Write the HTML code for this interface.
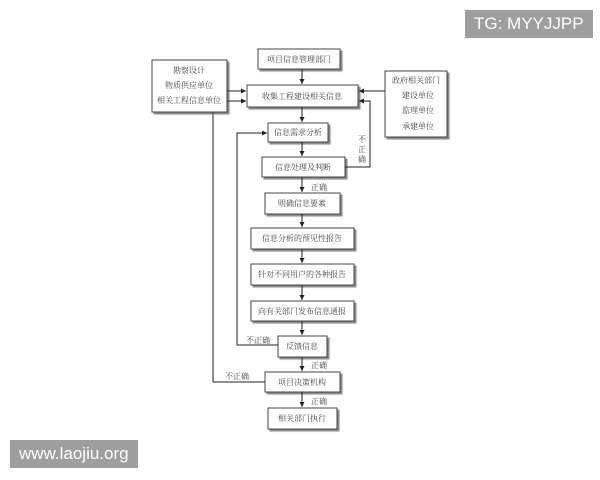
<!DOCTYPE html>
<html><head><meta charset="utf-8"><style>
body{margin:0;width:600px;height:480px;background:#fff;overflow:hidden;position:relative;font-family:"Liberation Serif","Noto Serif CJK SC",serif}
.wm{position:absolute;background:#9e9e9e;color:#fff;font-family:"Liberation Sans",sans-serif;font-size:17px;line-height:28px;padding:0 9px}
</style></head><body>
<svg width="600" height="480" style="position:absolute;left:0;top:0" font-family="'Liberation Serif','Noto Serif CJK SC',serif" font-size="8" fill="#444">
<defs>
<marker id="a" markerWidth="6" markerHeight="6" refX="5" refY="3" orient="auto"><path d="M0,0.5 L5,3 L0,5.5z" fill="#222"/></marker>
<filter id="s"><feDropShadow dx="2" dy="2" stdDeviation="0.6" flood-color="#555" flood-opacity="0.7"/></filter>
</defs>
<g stroke="#222" stroke-width="1" fill="none">
<polyline points="213,382 213,101 246,101" marker-end="url(#a)"/>
</g>
<g fill="#fff" stroke="#444" stroke-width="1" filter="url(#s)">
<rect x="258" y="49" width="82" height="20"/>
<rect x="152" y="60" width="75" height="52"/>
<rect x="247" y="85" width="111" height="22"/>
<rect x="385" y="71" width="62" height="66"/>
<rect x="268" y="123" width="60" height="19"/>
<rect x="262" y="157" width="83" height="20"/>
<rect x="265" y="193" width="75" height="21"/>
<rect x="251" y="228" width="103" height="21"/>
<rect x="251" y="264" width="103" height="21"/>
<rect x="251" y="301" width="103" height="20"/>
<rect x="278" y="336" width="49" height="21"/>
<rect x="265" y="372" width="75" height="20"/>
<rect x="268" y="408" width="69" height="21"/>
</g>
<g stroke="#222" stroke-width="1" fill="none">
<line x1="302" y1="69" x2="302" y2="84" marker-end="url(#a)"/>
<line x1="227" y1="91" x2="246" y2="91" marker-end="url(#a)"/>
<line x1="227" y1="101" x2="246" y2="101" marker-end="url(#a)"/>
<line x1="385" y1="91" x2="359" y2="91" marker-end="url(#a)"/>
<polyline points="278,345 237,345 237,133 267,133" marker-end="url(#a)"/>
<polyline points="345,167 370,167 370,101 359,101" marker-end="url(#a)"/>
<line x1="302" y1="107" x2="302" y2="122" marker-end="url(#a)"/>
<line x1="302" y1="142" x2="302" y2="156" marker-end="url(#a)"/>
<line x1="302" y1="177" x2="302" y2="192" marker-end="url(#a)"/>
<line x1="302" y1="214" x2="302" y2="227" marker-end="url(#a)"/>
<line x1="302" y1="249" x2="302" y2="263" marker-end="url(#a)"/>
<line x1="302" y1="285" x2="302" y2="300" marker-end="url(#a)"/>
<line x1="302" y1="321" x2="302" y2="335" marker-end="url(#a)"/>
<line x1="302" y1="357" x2="302" y2="371" marker-end="url(#a)"/>
<line x1="302" y1="392" x2="302" y2="407" marker-end="url(#a)"/>
<line x1="265" y1="382" x2="213" y2="382"/>
</g>
<g text-anchor="middle">
<text x="299" y="62">项目信息管理部门</text>
<text x="189" y="73">勘察设计</text>
<text x="189" y="88">物质供应单位</text>
<text x="189" y="103">相关工程信息单位</text>
<text x="302" y="99">收集工程建设相关信息</text>
<text x="416" y="83">政府相关部门</text>
<text x="418" y="98">建设单位</text>
<text x="418" y="113">监理单位</text>
<text x="418" y="129">承建单位</text>
<text x="298" y="135">信息需求分析</text>
<text x="303" y="170">信息处理及判断</text>
<text x="302" y="206">明确信息要素</text>
<text x="302" y="241">信息分析的预见性报告</text>
<text x="302" y="277">针对不同用户的各种报告</text>
<text x="302" y="314">向有关部门发布信息通报</text>
<text x="302" y="349">反馈信息</text>
<text x="302" y="385">项目决策机构</text>
<text x="302" y="421">相关部门执行</text>
<text x="362" y="142">不</text><text x="362" y="152">正</text><text x="362" y="162">确</text>
</g>
<text x="311" y="190">正确</text>
<text x="311" y="368">正确</text>
<text x="311" y="404">正确</text>
<text x="246" y="343">不正确</text>
<text x="225" y="379">不正确</text>
</svg>
<div class="wm" style="left:465px;top:10px">TG: MYYJJPP</div>
<div class="wm" style="left:10px;top:440px">www.laojiu.org</div>
</body></html>
